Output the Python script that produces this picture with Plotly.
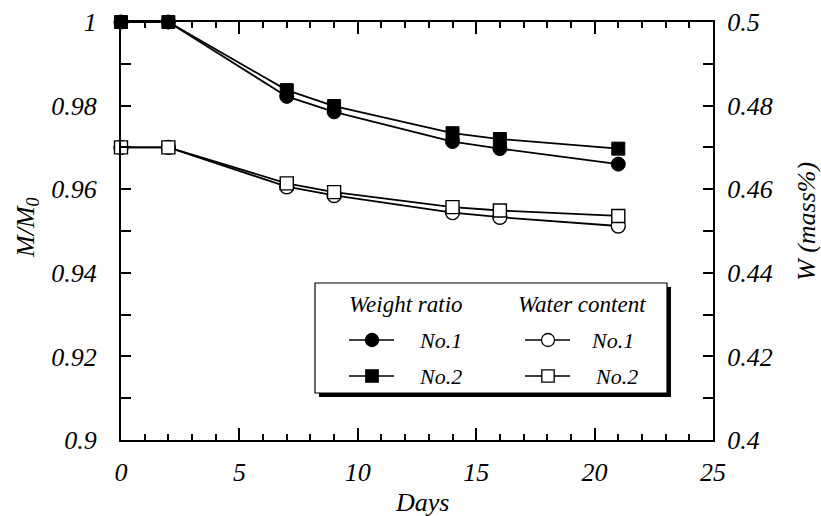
import plotly.graph_objects as go

# ---- data ----
days = [0, 2, 7, 9, 14, 16, 21]
weight_no1 = [1.0, 1.0, 0.9822, 0.9785, 0.9714, 0.9697, 0.9660]
weight_no2 = [1.0, 1.0, 0.9837, 0.9799, 0.9734, 0.9720, 0.9697]
water_no1 = [0.470, 0.470, 0.4606, 0.4585, 0.4544, 0.4533, 0.4512]
water_no2 = [0.470, 0.470, 0.4614, 0.4593, 0.4557, 0.4549, 0.4536]

x_ticks = [0, 5, 10, 15, 20, 25]
left_ticks = [0.9, 0.92, 0.94, 0.96, 0.98, 1.0]
left_labels = ["0.9", "0.92", "0.94", "0.96", "0.98", "1"]
right_ticks = [0.4, 0.42, 0.44, 0.46, 0.48, 0.5]
right_labels = ["0.4", "0.42", "0.44", "0.46", "0.48", "0.5"]

legend_headers = ["Weight ratio", "Water content"]
legend_names = ["No.1", "No.2"]

FONT = "Liberation Serif"
W, H = 821, 516
L, R, T, B = 121, 108, 22, 76
PW, PH = W - L - R, H - T - B


def px(x):
    return (x - L) / PW


def py(y):
    return (H - B - y) / PH


fig = go.Figure()
line = dict(color="black", width=1.8)
fig.add_trace(go.Scatter(x=days, y=weight_no1, mode="lines+markers", name="Weight ratio No.1",
                         line=line, cliponaxis=False,
                         marker=dict(symbol="circle", size=14, color="black",
                                     line=dict(color="black", width=1))))
fig.add_trace(go.Scatter(x=days, y=weight_no2, mode="lines+markers", name="Weight ratio No.2",
                         line=line, cliponaxis=False,
                         marker=dict(symbol="square", size=13, color="black",
                                     line=dict(color="black", width=1))))
fig.add_trace(go.Scatter(x=days, y=water_no1, mode="lines+markers", name="Water content No.1",
                         line=line, cliponaxis=False, yaxis="y2",
                         marker=dict(symbol="circle", size=14, color="white",
                                     line=dict(color="black", width=1.4))))
fig.add_trace(go.Scatter(x=days, y=water_no2, mode="lines+markers", name="Water content No.2",
                         line=line, cliponaxis=False, yaxis="y2",
                         marker=dict(symbol="square", size=13, color="white",
                                     line=dict(color="black", width=1.4))))

tickfont = dict(family=FONT, size=26, style="italic", color="black")
titlefont = dict(family=FONT, size=26, style="italic", color="black")
common_y = dict(ticks="inside", ticklen=10, tickwidth=1.5, tickcolor="black",
                showline=True, linewidth=2, linecolor="black", showgrid=False,
                zeroline=False, tickfont=tickfont, automargin=False,
                minor=dict(dtick=0.01, ticks="inside", ticklen=10, tickwidth=1.5,
                           tickcolor="black", showgrid=False))

# ---- hand-made legend box (two columns with headers) ----
shapes = [
    dict(type="rect", xref="paper", yref="paper", layer="above",
         x0=px(319), x1=px(671), y0=py(287), y1=py(397),
         fillcolor="black", line=dict(width=0)),
    dict(type="rect", xref="paper", yref="paper", layer="above",
         x0=px(315), x1=px(667), y0=py(283), y1=py(393),
         fillcolor="white", line=dict(color="black", width=1.2)),
]
annotations = []
leg_font = dict(family=FONT, size=22, style="italic", color="black")
head_font = dict(family=FONT, size=23, style="italic", color="black")
cols = [dict(cx=406, line=(349, 394), mk=372, tx=417, fill="black"),
        dict(cx=582, line=(525, 570), mk=548, tx=589, fill="white")]
rows_y = [340, 376]
for c, head in zip(cols, legend_headers):
    annotations.append(dict(text=head, xref="paper", yref="paper", x=px(c["cx"]), y=py(305),
                            xanchor="center", yanchor="middle", showarrow=False, font=head_font))
    for i, (ry, name) in enumerate(zip(rows_y, legend_names)):
        shapes.append(dict(type="line", xref="paper", yref="paper", layer="above",
                           x0=px(c["line"][0]), x1=px(c["line"][1]), y0=py(ry), y1=py(ry),
                           line=dict(color="black", width=1.6)))
        r = 6.5 if i == 0 else 6.2
        shapes.append(dict(type="circle" if i == 0 else "rect", xref="paper", yref="paper",
                           layer="above", x0=px(c["mk"] - r), x1=px(c["mk"] + r),
                           y0=py(ry + r), y1=py(ry - r), fillcolor=c["fill"],
                           line=dict(color="black", width=1.3)))
        annotations.append(dict(text=name, xref="paper", yref="paper",
                                x=px(c["tx"] + (4 if (i == 1 and c["fill"] == "white") else 0)),
                                y=py(ry), xanchor="left", yanchor="middle",
                                showarrow=False, font=leg_font))

# ---- axis titles ----
annotations += [
    dict(text="Days", xref="paper", yref="paper", x=px(422), y=py(502),
         xanchor="center", yanchor="middle", showarrow=False, font=titlefont),
    dict(text="M/M<sub>0</sub>", xref="paper", yref="paper", x=px(27), y=py(228),
         xanchor="center", yanchor="middle", showarrow=False, textangle=-90, font=titlefont),
    dict(text="W (mass%)", xref="paper", yref="paper", x=px(806), y=py(222),
         xanchor="center", yanchor="middle", showarrow=False, textangle=-90, font=titlefont),
]

fig.update_layout(
    width=W, height=H,
    margin=dict(l=L, r=R, t=T, b=B),
    plot_bgcolor="white", paper_bgcolor="white",
    font=dict(family=FONT, color="black"),
    showlegend=False,
    xaxis=dict(range=[0, 25], tickvals=x_ticks, ticks="inside", ticklen=12,
               tickwidth=1.5, tickcolor="black", showline=True, linewidth=2,
               linecolor="black", mirror="ticks", showgrid=False, zeroline=False,
               tickfont=tickfont, ticklabelstandoff=8, automargin=False,
               minor=dict(dtick=1, ticks="inside", ticklen=6, tickwidth=1.5,
                          tickcolor="black", showgrid=False)),
    yaxis=dict(range=[0.9, 1.0], tickvals=left_ticks, ticktext=left_labels,
               ticklabelstandoff=17, **common_y),
    yaxis2=dict(range=[0.4, 0.5], tickvals=right_ticks, ticktext=right_labels,
                overlaying="y", side="right", ticklabelstandoff=7, **common_y),
    shapes=shapes,
    annotations=annotations,
)

fig.write_html("out.html", config={"displayModeBar": False},
               post_script="document.body.style.margin='0px';document.body.style.padding='0px';")
